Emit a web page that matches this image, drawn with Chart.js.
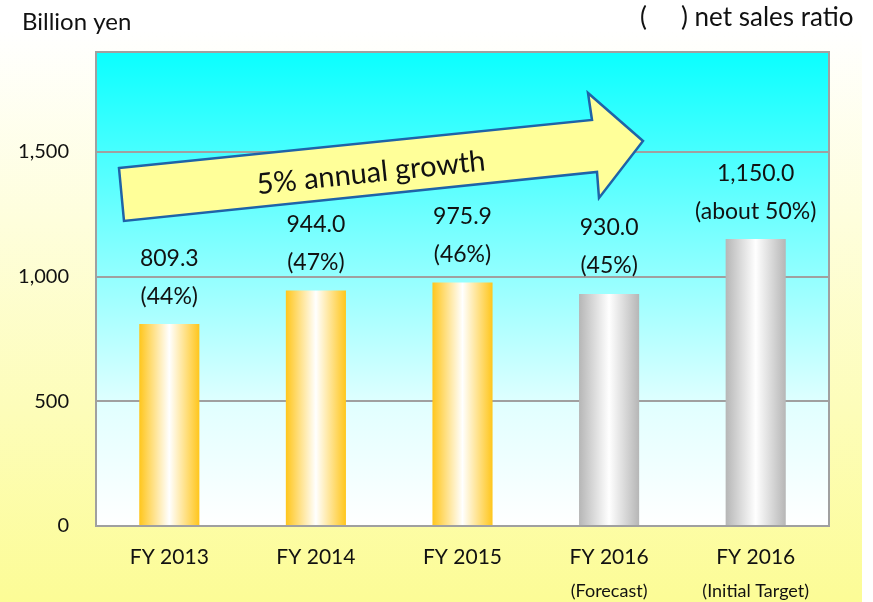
<!DOCTYPE html>
<html>
<head>
<meta charset="utf-8">
<script src="https://cdn.jsdelivr.net/npm/chart.js@4.4.1/dist/chart.umd.min.js"></script>
<style>
  html, body { margin: 0; padding: 0; background: #ffffff; }
  #wrap { width: 873px; height: 602px; }
</style>
</head>
<body>
<div id="wrap"><canvas id="c" width="873" height="602"></canvas></div>
<script>
// Data
const categories = ["FY 2013", "FY 2014", "FY 2015", "FY 2016", "FY 2016"];
const subLabels = ["", "", "", "(Forecast)", "(Initial Target)"];
const salesValues = [809.3, 944.0, 975.9, 930.0, 1150.0];
const ratioLabels = ["(44%)", "(47%)", "(46%)", "(45%)", "(about 50%)"];
const barKinds = ["actual", "actual", "actual", "plan", "plan"];
const yTicks = [0, 500, 1000, 1500];

const FONT = "Lato, 'Open Sans', sans-serif";
const BAR_PCT = 0.41;

// Horizontal gradient across each bar (edge colour -> white -> edge colour)
function barFill(ctx) {
  const chart = ctx.chart;
  const area = chart.chartArea;
  if (!area) return "#ffc81e";
  const x = chart.scales.x.getPixelForValue(ctx.dataIndex);
  const w = (area.width / categories.length) * BAR_PCT;
  const edge = barKinds[ctx.dataIndex] === "actual" ? "#ffc61c" : "#b6b6b6";
  const g = chart.ctx.createLinearGradient(x - w / 2, 0, x + w / 2, 0);
  g.addColorStop(0, edge);
  g.addColorStop(0.5, "#ffffff");
  g.addColorStop(1, edge);
  return g;
}

const backdrop = {
  id: "backdrop",
  beforeDraw(chart) {
    const { ctx, chartArea: a, width, height } = chart;
    ctx.save();
    ctx.fillStyle = "#ffffff";
    ctx.fillRect(0, 0, width, height);
    const pg = ctx.createLinearGradient(0, 30, 0, height);
    pg.addColorStop(0, "#ffffff");
    pg.addColorStop(1, "#fcfc96");
    ctx.fillStyle = pg;
    ctx.fillRect(0, 0, 862, height);
    const cg = ctx.createLinearGradient(0, a.top, 0, a.bottom);
    cg.addColorStop(0, "#0affff");
    cg.addColorStop(0.45, "#8cffff");
    cg.addColorStop(0.75, "#e2ffff");
    cg.addColorStop(1, "#ffffff");
    ctx.fillStyle = cg;
    ctx.fillRect(a.left, a.top, a.width, a.height);
    ctx.restore();
  },
  beforeDatasetsDraw(chart) {
    const { ctx, chartArea: a } = chart;
    ctx.save();
    ctx.strokeStyle = "#a0a0a0";
    ctx.lineWidth = 2;
    ctx.strokeRect(a.left, a.top, a.width, a.height);
    ctx.restore();
  }
};

const overlay = {
  id: "overlay",
  afterDatasetsDraw(chart) {
    const { ctx, chartArea: a } = chart;
    const meta = chart.getDatasetMeta(0);
    ctx.save();
    ctx.fillStyle = "#111111";
    ctx.textAlign = "center";
    ctx.textBaseline = "middle";
    ctx.font = "23px " + FONT;
    meta.data.forEach((bar, i) => {
      const v = salesValues[i].toLocaleString("en-US", { minimumFractionDigits: 1 });
      ctx.fillText(v, bar.x, bar.y - 66);
      ctx.fillText(ratioLabels[i], bar.x, bar.y - 28);
    });

    // growth arrow (offsets from plot's top-left corner)
    const L = a.left, T = a.top;
    const pts = [[23, 116], [496, 68], [492, 41], [547, 89], [503, 146], [501, 120], [28, 169]];
    ctx.beginPath();
    pts.forEach((p, k) => k ? ctx.lineTo(L + p[0], T + p[1]) : ctx.moveTo(L + p[0], T + p[1]));
    ctx.closePath();
    ctx.fillStyle = "#ffff99";
    ctx.fill();
    ctx.strokeStyle = "#1f63a8";
    ctx.lineWidth = 2.5;
    ctx.lineJoin = "miter";
    ctx.stroke();

    ctx.translate(L + 275, T + 121);
    ctx.rotate(-6.0 * Math.PI / 180);
    ctx.fillStyle = "#111111";
    ctx.font = "29px " + FONT;
    ctx.fillText("5% annual growth", 0, 0);
    ctx.restore();
  },
  afterDraw(chart) {
    const { ctx, chartArea: a } = chart;
    const xs = chart.scales.x;
    ctx.save();
    ctx.fillStyle = "#111111";
    ctx.textAlign = "center";
    ctx.textBaseline = "middle";
    categories.forEach((c, i) => {
      const x = xs.getPixelForValue(i);
      ctx.font = "21px " + FONT;
      ctx.fillText(c, x, a.bottom + 31);
      if (subLabels[i]) {
        ctx.font = "18px " + FONT;
        ctx.fillText(subLabels[i], x, a.bottom + 65);
      }
    });
    ctx.textAlign = "left";
    ctx.font = "24px " + FONT;
    ctx.fillText("Billion yen", 22, 22);
    ctx.font = "26px " + FONT;
    ctx.fillText("(", 640, 18);
    ctx.fillText(") net sales ratio", 681, 18);
    ctx.restore();
  }
};

new Chart(document.getElementById("c"), {
  type: "bar",
  data: {
    labels: categories,
    datasets: [{
      data: salesValues,
      backgroundColor: barFill,
      borderWidth: 0,
      barPercentage: BAR_PCT,
      categoryPercentage: 1
    }]
  },
  options: {
    responsive: false,
    animation: false,
    devicePixelRatio: 1,
    layout: { padding: { top: 52, right: 44, left: 0, bottom: 0 } },
    plugins: { legend: { display: false }, tooltip: { enabled: false } },
    scales: {
      x: {
        grid: { display: false },
        border: { display: false },
        ticks: { display: false },
        afterFit(s) { s.height = 76; }
      },
      y: {
        min: 0,
        max: 1900,
        border: { display: false },
        grid: { color: "#a0a0a0", lineWidth: 2, drawTicks: false },
        ticks: {
          padding: 27,
          color: "#111111",
          font: { family: FONT, size: 20 },
          callback: v => v.toLocaleString("en-US")
        },
        afterBuildTicks(s) { s.ticks = yTicks.map(v => ({ value: v })); },
        afterFit(s) { s.width = 96; }
      }
    }
  },
  plugins: [backdrop, overlay]
});
</script>
</body>
</html>
